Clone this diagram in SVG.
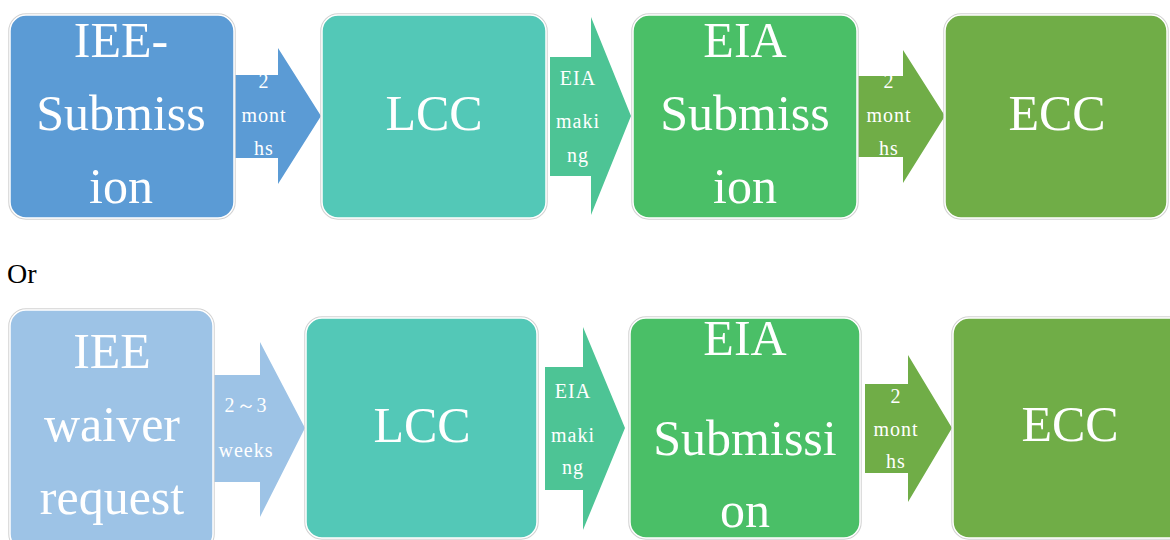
<svg xmlns="http://www.w3.org/2000/svg" width="1170" height="540" viewBox="0 0 1170 540">
<style>
.bo{stroke:#d2d2d2;stroke-width:3.5}
.bi{stroke:#ffffff;stroke-width:1.5}
.big{font-family:"Liberation Serif","Times New Roman",serif;font-size:50px;fill:#ffffff;text-anchor:middle}
.sm{font-family:"Liberation Serif","Times New Roman",serif;font-size:20px;fill:#ffffff;text-anchor:middle;letter-spacing:1px}
.or{font-family:"Liberation Serif","Times New Roman",serif;font-size:28px;fill:#000000}
</style>
<rect width="1170" height="540" fill="#ffffff"/>
<g id="connectors">
  <g id="a1"><polygon points="235,75 278,75 278,48 321,116 278,184 278,158 235,158" fill="#5B9BD5"/>
    <text class="sm" x="264" y="88">2</text><text class="sm" x="264" y="122">mont</text><text class="sm" x="264" y="155">hs</text></g>
  <g id="a2"><polygon points="550,57 591,57 591,17 631,116 591,215 591,176 550,176" fill="#4DC495"/>
    <text class="sm" x="578" y="85">EIA</text><text class="sm" x="578" y="128">maki</text><text class="sm" x="578" y="162">ng</text></g>
  <g id="a3"><polygon points="858,76 903,76 903,50 945,116 903,183 903,157 858,157" fill="#70AD47"/>
    <text class="sm" x="889" y="88">2</text><text class="sm" x="889" y="122">mont</text><text class="sm" x="889" y="155">hs</text></g>
  <g id="b1"><polygon points="213,375 260,375 260,342 305,428 260,517 260,482 213,482" fill="#9DC3E6"/>
    <text class="sm" x="246" y="412">2～3</text><text class="sm" x="246" y="457">weeks</text></g>
  <g id="b2"><polygon points="545,367 583,367 583,327 625,428 583,530 583,490 545,490" fill="#4DC495"/>
    <text class="sm" x="573" y="398">EIA</text><text class="sm" x="573" y="442">maki</text><text class="sm" x="573" y="474">ng</text></g>
  <g id="b3"><polygon points="865,384 908,384 908,355 952,428 908,502 908,473 865,473" fill="#70AD47"/>
    <text class="sm" x="896" y="403">2</text><text class="sm" x="896" y="436">mont</text><text class="sm" x="896" y="468">hs</text></g>
</g>
<g id="n1">
  <rect class="bo" x="10" y="15" width="224" height="203" rx="16" fill="none"/>
  <rect class="bi" x="10" y="15" width="224" height="203" rx="16" fill="#5B9BD5"/>
  <text class="big" x="121" y="57">IEE-</text><text class="big" x="121" y="130">Submiss</text><text class="big" x="121" y="203">ion</text>
</g>
<g id="n2">
  <rect class="bo" x="322" y="15" width="224" height="203" rx="16" fill="none"/>
  <rect class="bi" x="322" y="15" width="224" height="203" rx="16" fill="#53C8B7"/>
  <text class="big" x="434" y="130">LCC</text>
</g>
<g id="n3">
  <rect class="bo" x="633" y="15" width="224" height="203" rx="16" fill="none"/>
  <rect class="bi" x="633" y="15" width="224" height="203" rx="16" fill="#4ABF67"/>
  <text class="big" x="745" y="57">EIA</text><text class="big" x="745" y="130">Submiss</text><text class="big" x="745" y="203">ion</text>
</g>
<g id="n4">
  <rect class="bo" x="945" y="15" width="222" height="203" rx="16" fill="none"/>
  <rect class="bi" x="945" y="15" width="222" height="203" rx="16" fill="#70AD47"/>
  <text class="big" x="1057" y="130">ECC</text>
</g>
<text class="or" x="7" y="283">Or</text>
<g id="m1">
  <rect class="bo" x="10" y="310" width="203" height="240" rx="16" fill="none"/>
  <rect class="bi" x="10" y="310" width="203" height="240" rx="16" fill="#9DC3E6"/>
  <text class="big" x="112" y="368">IEE</text><text class="big" x="112" y="441">waiver</text><text class="big" x="112" y="514">request</text>
</g>
<g id="m2">
  <rect class="bo" x="306" y="318" width="231" height="220" rx="16" fill="none"/>
  <rect class="bi" x="306" y="318" width="231" height="220" rx="16" fill="#53C8B7"/>
  <text class="big" x="422" y="442">LCC</text>
</g>
<g id="m3">
  <rect class="bo" x="630" y="318" width="230" height="220" rx="16" fill="none"/>
  <rect class="bi" x="630" y="318" width="230" height="220" rx="16" fill="#4ABF67"/>
  <text class="big" x="745" y="355">EIA</text><text class="big" x="745" y="455">Submissi</text><text class="big" x="745" y="527">on</text>
</g>
<g id="m4">
  <rect class="bo" x="953" y="318" width="240" height="220" rx="16" fill="none"/>
  <rect class="bi" x="953" y="318" width="240" height="220" rx="16" fill="#70AD47"/>
  <text class="big" x="1070" y="441">ECC</text>
</g>
</svg>
